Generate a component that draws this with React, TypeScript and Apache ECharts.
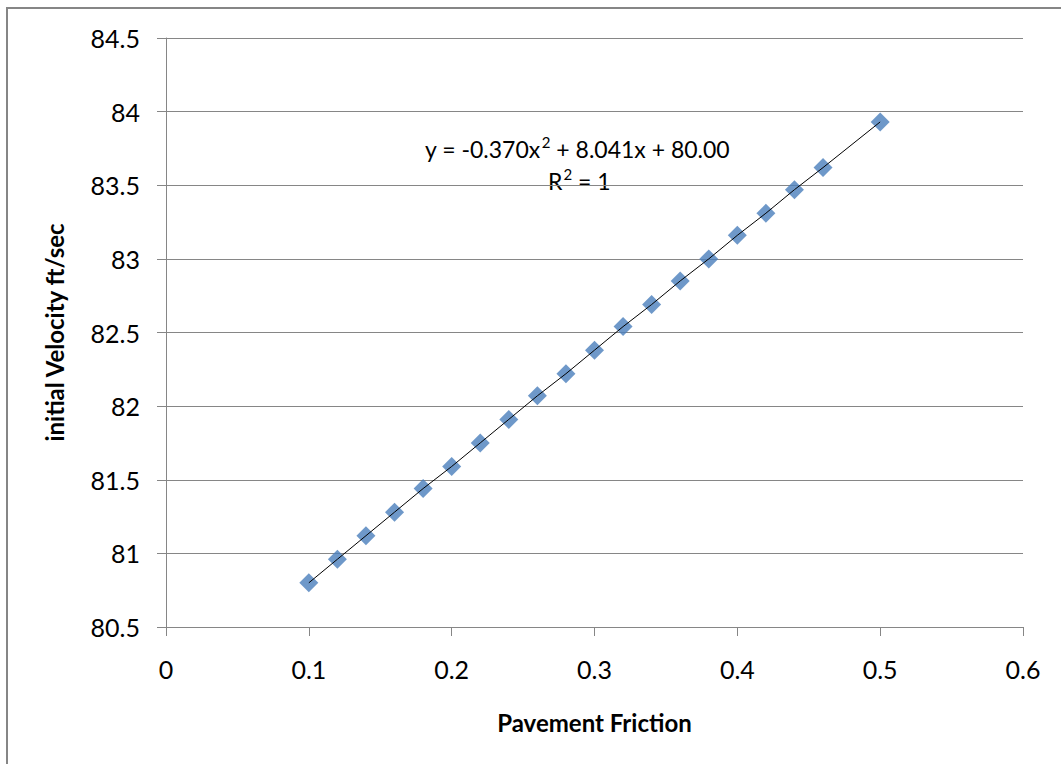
import React, { useEffect, useRef } from "react";
import * as echarts from "echarts";

const frictionValues = [0.1, 0.12, 0.14, 0.16, 0.18, 0.2, 0.22, 0.24, 0.26, 0.28, 0.3, 0.32, 0.34, 0.36, 0.38, 0.4, 0.42, 0.44, 0.46, 0.5];
const velocityValues = [80.80, 80.96, 81.12, 81.28, 81.44, 81.59, 81.75, 81.91, 82.07, 82.22, 82.38, 82.54, 82.69, 82.85, 83.00, 83.16, 83.31, 83.47, 83.62, 83.93];
const equationParts = ["y = -0.370x", "2", " + 8.041x + 80.00"];
const rSquaredParts = ["R", "2", " = 1"];
const xTitle = "Pavement Friction";
const yTitle = "initial Velocity ft/sec";

const FONT = "Lato, 'Open Sans', sans-serif";
const GRAY = "#868686";

export default function App() {
  const ref = useRef<HTMLDivElement>(null);
  useEffect(() => {
    if (!ref.current) return;
    const chart = echarts.init(ref.current, null, { renderer: "svg" });
    const points = frictionValues.map((x, i) => [x, velocityValues[i]]);
    const rich = {
      n: { fontFamily: FONT, fontSize: 23, color: "#000", lineHeight: 28, verticalAlign: "bottom" },
      sup: { fontFamily: FONT, fontSize: 15, color: "#000", lineHeight: 28, verticalAlign: "top", padding: [2, 0, 0, 1] },
    };
    const eqText = `{n|${equationParts[0]}}{sup|${equationParts[1]}}{n|${equationParts[2]}}`;
    const rText = `{n|${rSquaredParts[0]}}{sup|${rSquaredParts[1]}}{n|${rSquaredParts[2]}}`;
    chart.setOption({
      animation: false,
      backgroundColor: "#ffffff",
      textStyle: { fontFamily: FONT },
      grid: { left: 166, top: 38, right: 38, bottom: 137, containLabel: false },
      xAxis: {
        type: "value",
        min: 0,
        max: 0.6,
        interval: 0.1,
        name: xTitle,
        nameLocation: "middle",
        nameGap: 83,
        nameTextStyle: { fontFamily: FONT, fontSize: 24, fontWeight: "bold", color: "#000" },
        axisLine: { show: true, lineStyle: { color: GRAY, width: 1 } },
        axisTick: { show: true, length: 9, lineStyle: { color: GRAY } },
        axisLabel: { color: "#000", fontSize: 25, fontFamily: FONT, margin: 29 },
        splitLine: { show: false },
      },
      yAxis: {
        type: "value",
        min: 80.5,
        max: 84.5,
        interval: 0.5,
        name: yTitle,
        nameLocation: "middle",
        nameGap: 100,
        nameRotate: 90,
        nameTextStyle: { fontFamily: FONT, fontSize: 24, fontWeight: "bold", color: "#000" },
        axisLine: { show: true, lineStyle: { color: GRAY, width: 1 } },
        axisTick: { show: true, length: 9, lineStyle: { color: GRAY } },
        axisLabel: { color: "#000", fontSize: 25, fontFamily: FONT, margin: 26 },
        splitLine: { show: true, lineStyle: { color: GRAY, width: 1 } },
      },
      series: [
        {
          type: "scatter",
          data: points,
          symbol: "diamond",
          symbolSize: 19,
          itemStyle: { color: "#4a7ebb" },
          z: 2,
        },
        {
          type: "line",
          data: points,
          showSymbol: false,
          symbol: "none",
          lineStyle: { color: "#000", width: 1 },
          z: 3,
        },
      ],
      graphic: [
        {
          type: "rect",
          shape: { x: 7, y: 8, width: 1200, height: 900 },
          style: { fill: "none", stroke: GRAY, lineWidth: 2 },
          silent: true,
        },
        {
          type: "text",
          x: 425,
          y: 146,
          style: { text: eqText, rich, verticalAlign: "middle", align: "left" },
        },
        {
          type: "text",
          x: 548,
          y: 178,
          style: { text: rText, rich, verticalAlign: "middle", align: "left" },
        },
      ],
    });
    return () => chart.dispose();
  }, []);
  return <div ref={ref} style={{ position: "absolute", left: 0, top: 0, width: 1061, height: 764 }} />;
}
